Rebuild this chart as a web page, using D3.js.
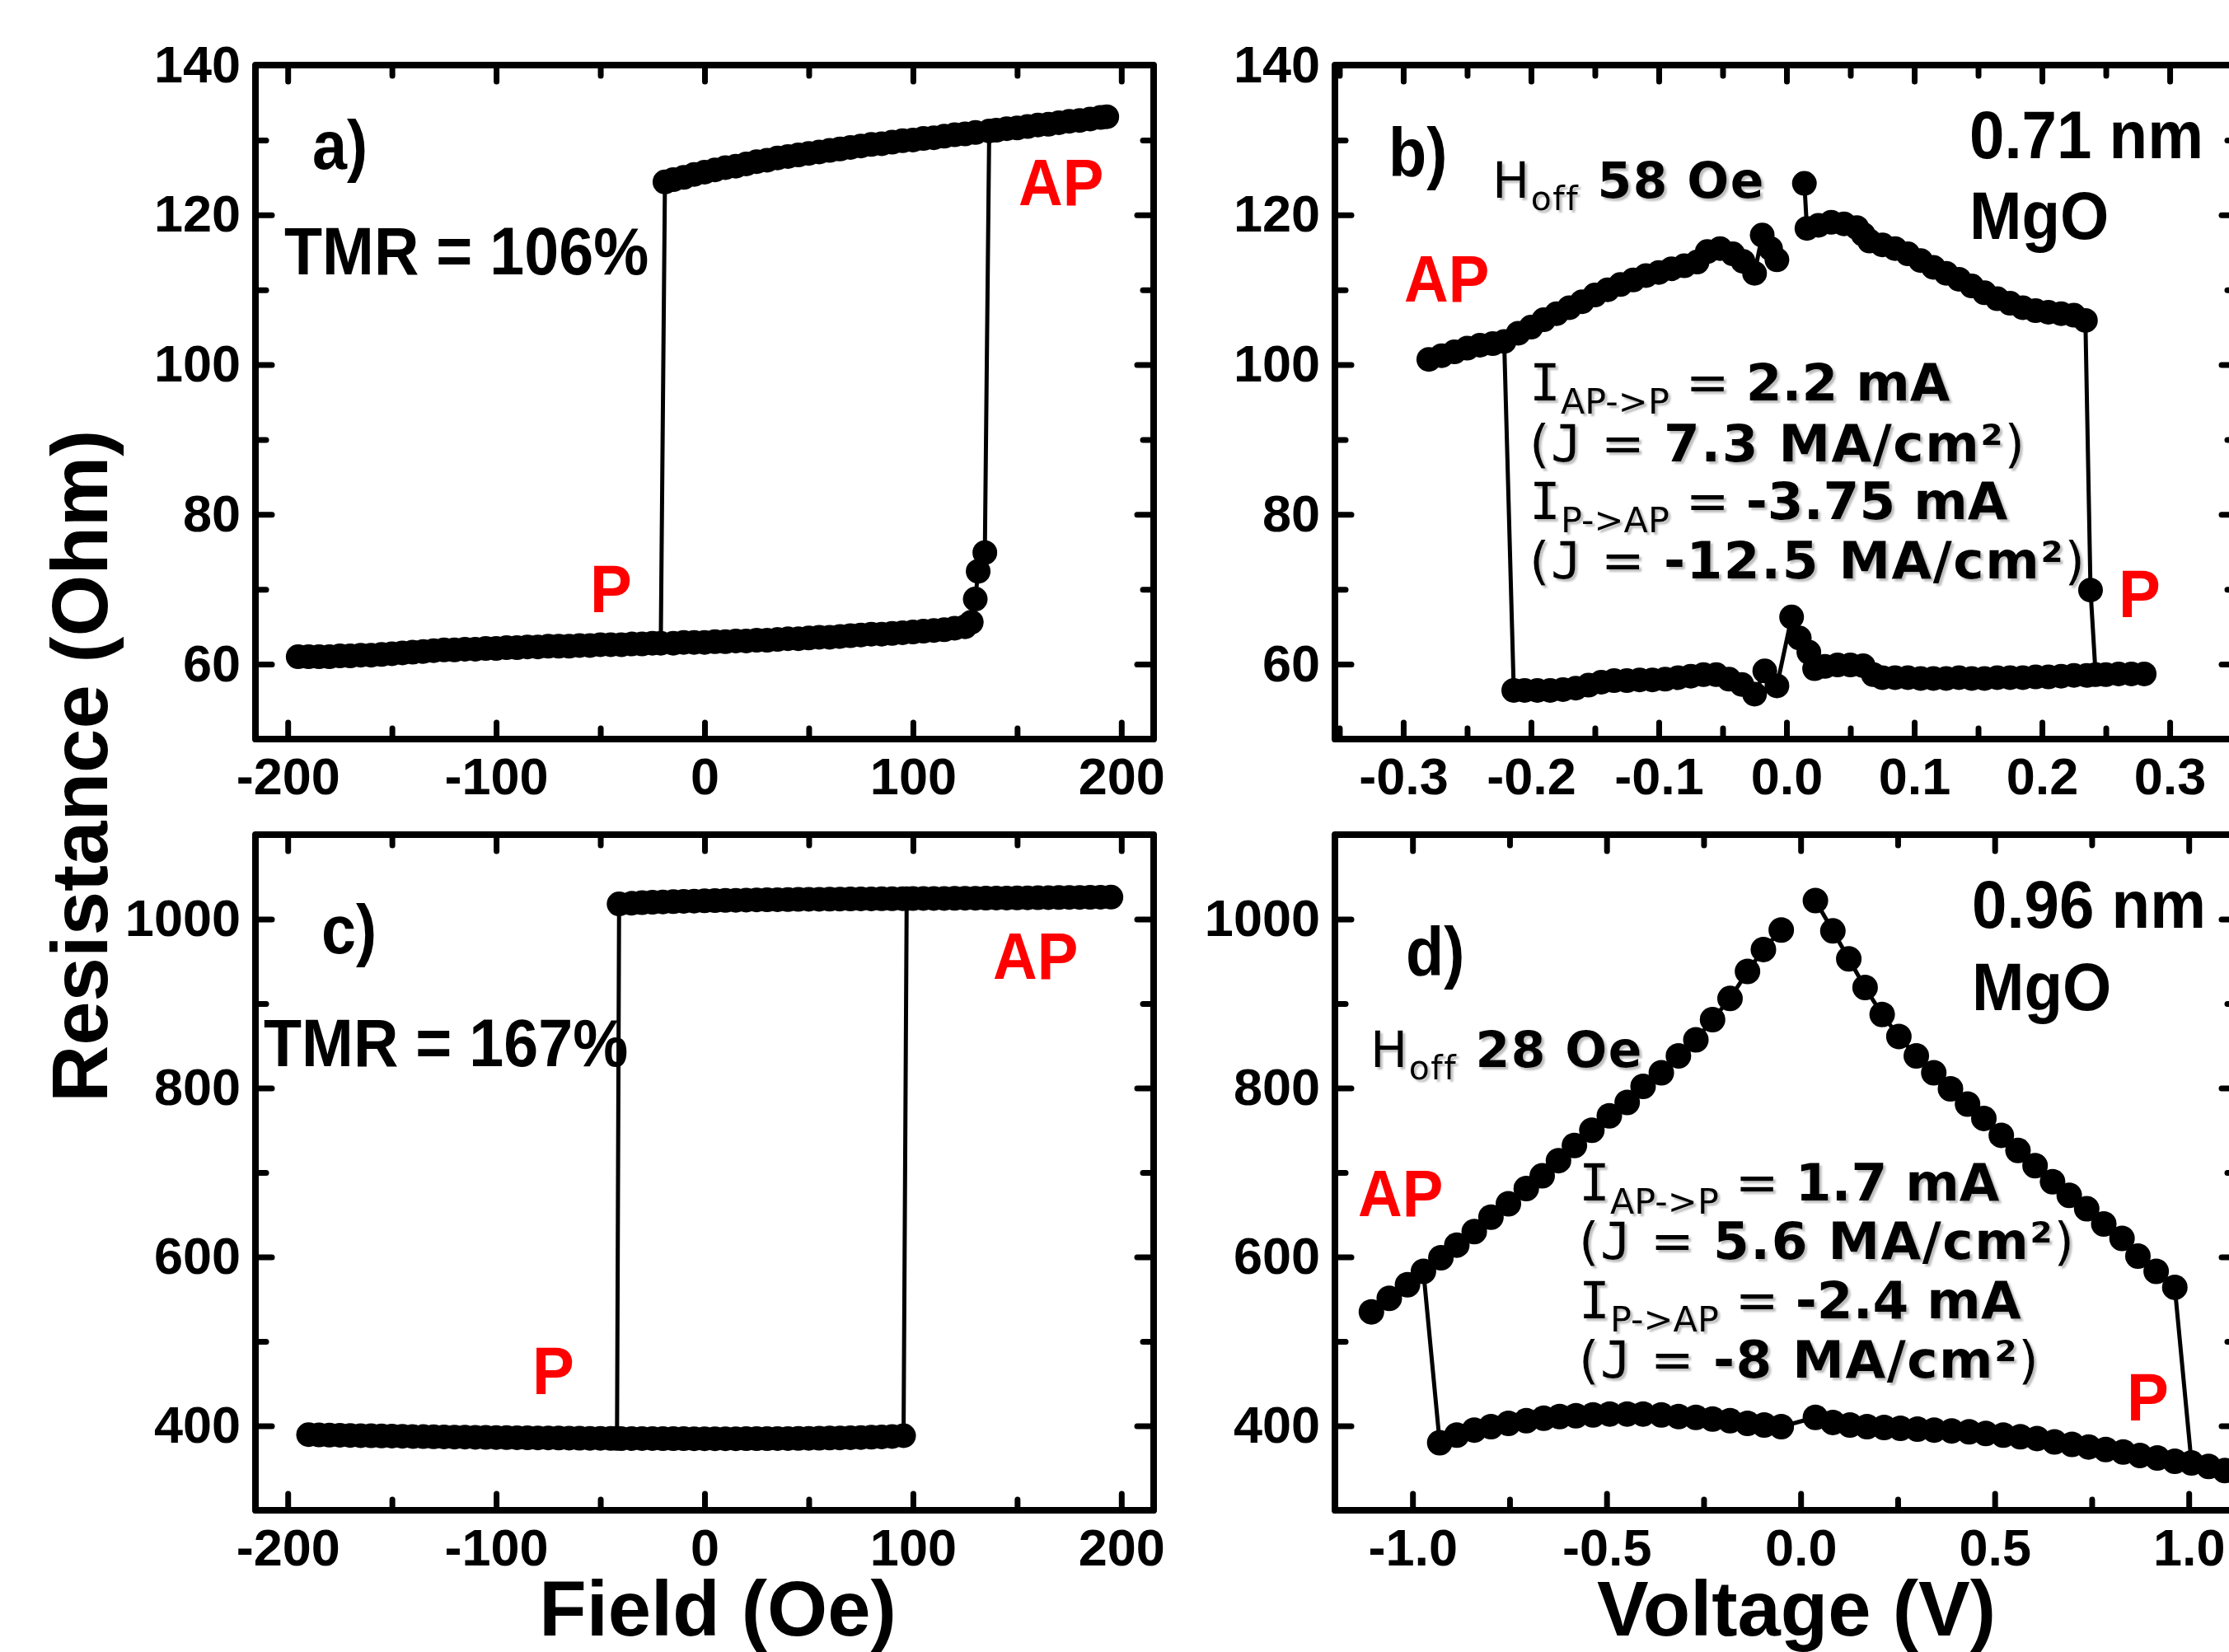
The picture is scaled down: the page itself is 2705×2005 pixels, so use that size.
<!DOCTYPE html>
<html>
<head>
<meta charset="utf-8">
<script src="https://cdn.jsdelivr.net/npm/d3@7"></script>
<style>
  body { margin: 0; background: #fff; }
</style>
</head>
<body>
<script>
// ---- panel a : R vs field, 0.71 nm MgO ----
// P branch (low state), up sweep
const aPField = [-195,-190,-185,-180,-175,-170,-165,-160,-155,-150,-145,-140,-135,-130,-125,-120,-115,-110,-105,-100,
  -95,-90,-85,-80,-75,-70,-65,-60,-55,-50,-45,-40,-35,-30,-25,-21,-15,-10,-5,0,5,10,15,20,25,30,35,40,45,50,
  55,60,65,70,75,80,85,90,95,100,105,110,115,120,125,128];
const aPRes = [61.0,61.0,61.0,61.0,61.1,61.1,61.2,61.2,61.3,61.4,61.5,61.6,61.7,61.8,61.9,61.9,62.0,62.0,62.1,62.1,
  62.2,62.2,62.3,62.3,62.4,62.4,62.4,62.5,62.5,62.6,62.6,62.6,62.7,62.7,62.8,62.8,62.8,62.9,62.9,62.9,63.0,63.0,63.1,63.1,63.2,63.2,63.3,63.4,63.4,63.5,
  63.6,63.6,63.7,63.8,63.9,64.0,64.0,64.1,64.2,64.3,64.4,64.5,64.6,64.8,65.0,65.6];
// points on the way up from P to AP
const aSwitchField = [129.9, 131.3, 134.5];
const aSwitchRes = [68.7, 72.4, 74.9];
// AP branch (high state)
const aAPField = [-19,-15,-10,-5,0,5,10,15,20,25,30,35,40,45,50,55,60,65,70,75,80,85,90,95,100,105,110,115,120,125,130,
  136.6,140,145,150,155,160,165,170,175,180,185,190,193];
const aAPRes = [124.4,124.7,125.0,125.4,125.7,126.0,126.3,126.5,126.8,127.1,127.3,127.6,127.8,128.0,128.2,128.4,128.6,128.8,129.0,129.2,129.4,
  129.5,129.7,129.9,130.0,130.2,130.3,130.5,130.7,130.8,131.0,131.2,131.3,131.5,131.6,131.8,132.0,132.1,132.3,132.5,132.6,132.8,133.0,133.1];

// ---- panel b : R vs voltage, 0.71 nm MgO ----
const bAPRightV = [0.014,0.016,0.025,0.035,0.045,0.055,0.06,0.065,0.075,0.085,0.095,0.105,0.115,0.125,0.135,0.145,0.155,0.165,0.175,0.185,0.195,0.205,0.215,0.225,0.234];
const bAPRightR = [124.2,118.2,118.6,119.0,118.8,118.3,117.4,116.5,116.0,115.5,114.8,113.9,113.0,112.2,111.4,110.5,109.6,108.8,108.2,107.6,107.2,107.0,106.8,106.6,105.9];
const bSwitchV = [0.238];
const bSwitchR = [69.9];
const bPV = [-0.2135,-0.205,-0.195,-0.185,-0.175,-0.165,-0.155,-0.145,-0.135,-0.125,-0.115,-0.105,-0.095,-0.085,-0.075,-0.065,-0.055,-0.045,-0.035,-0.025,-0.017,-0.0075,
  0.004,0.01,0.0175,0.022,0.03,0.04,0.05,0.06,0.068,0.075,0.085,0.095,0.105,0.115,0.125,0.135,0.145,0.155,0.165,0.175,0.185,0.195,0.205,0.215,0.225,0.235,0.242,0.25,0.26,0.27,0.28];
const bPR = [56.5,56.5,56.5,56.5,56.6,56.8,57.2,57.6,57.8,57.8,57.9,57.9,58.0,58.2,58.4,58.6,58.6,58.0,57.3,56.0,59.1,57.1,
  66.3,63.5,61.6,59.4,59.7,59.9,59.9,59.8,58.6,58.2,58.2,58.2,58.1,58.1,58.1,58.2,58.1,58.1,58.2,58.2,58.2,58.3,58.3,58.4,58.5,58.5,58.6,58.6,58.7,58.7,58.7];
const bAPLeftV = [-0.28,-0.27,-0.26,-0.25,-0.24,-0.23,-0.221,-0.21,-0.2,-0.19,-0.18,-0.17,-0.16,-0.15,-0.14,-0.13,-0.12,-0.11,-0.1,-0.09,-0.08,-0.07,
  -0.062,-0.052,-0.042,-0.034,-0.025,-0.019,-0.0125,-0.0075];
const bAPLeftR = [100.7,101.2,101.7,102.2,102.6,102.8,103.1,104.2,105.0,106.0,106.8,107.6,108.4,109.3,110.0,110.7,111.3,111.9,112.3,112.8,113.2,113.7,
  115.1,115.5,114.8,113.8,112.2,117.3,115.5,114.0];

// ---- panel c : R vs field, 0.96 nm MgO ----
const cPField = [-190,-185,-180,-175,-170,-165,-160,-155,-150,-145,-140,-135,-130,-125,-120,-115,-110,-105,-100,-95,
  -90,-85,-80,-75,-70,-65,-60,-55,-50,-45,-42,-40,-35,-30,-25,-20,-15,-10,-5,0,5,10,15,20,25,30,35,40,45,50,55,
  60,65,70,75,80,85,90,95.5];
const cPRes = [389.5,389.2,389.0,388.8,388.6,388.4,388.2,388.0,387.8,387.6,387.4,387.2,387.0,386.9,386.7,386.6,386.4,386.3,386.2,386.0,
  385.9,385.8,385.7,385.6,385.5,385.4,385.3,385.2,385.2,385.1,385.1,385.0,385.0,384.9,384.9,384.8,384.8,384.8,384.7,384.7,384.7,384.7,384.7,384.8,384.8,384.8,384.9,385.0,385.1,385.2,385.3,
  385.5,385.7,385.9,386.2,386.5,386.9,387.3,388.3];
const cAPField = [-41,-35,-30,-25,-20,-15,-10,-5,0,5,10,15,20,25,30,35,40,45,50,55,60,65,70,75,80,85,90,95,
  97,100,105,110,115,120,125,130,135,140,145,150,155,160,165,170,175,180,185,190,195];
const cAPRes = [1018.0,1018.8,1019.4,1019.9,1020.3,1020.7,1021.0,1021.3,1021.6,1021.9,1022.1,1022.3,1022.5,1022.7,1022.9,1023.0,1023.1,1023.3,1023.4,1023.5,1023.6,1023.7,1023.8,1023.9,1024.0,1024.1,1024.1,1024.2,
  1024.2,1024.3,1024.4,1024.4,1024.5,1024.6,1024.7,1024.7,1024.8,1024.9,1025.0,1025.1,1025.2,1025.3,1025.4,1025.5,1025.6,1025.7,1025.8,1025.9,1026.0];

// ---- panel d : R vs voltage, 0.96 nm MgO ----
const dAPLeftV = [-1.106,-1.06,-1.013,-0.972,-0.927,-0.886,-0.841,-0.798,-0.753,-0.707,-0.666,-0.624,-0.583,-0.538,-0.493,-0.447,-0.406,-0.359,-0.315,-0.270,-0.227,-0.182,-0.137,-0.096,-0.050];
const dAPLeftR = [535,551,567,583,599,614,630,647,663,681,696,714,732,750,767,783,802,818,838,857,881,906,938,964,987];
const dAPRightV = [0.038,0.083,0.124,0.166,0.210,0.253,0.298,0.343,0.386,0.430,0.472,0.517,0.560,0.604,0.649,0.692,0.737,0.781,0.828,0.869,0.916,0.964];
const dAPRightR = [1022,986,953,919,887,861,838,818,799,781,764,744,726,708,689,673,657,639,622,601,583,564];
const dPLeftV = [-0.930,-0.886,-0.841,-0.798,-0.753,-0.707,-0.662,-0.621,-0.579,-0.535,-0.492,-0.447,-0.406,-0.359,-0.315,-0.270,-0.227,-0.182,-0.137,-0.094,-0.050];
const dPLeftR = [380,389,395,399,403,406,409,411,412,413,414,414,414,413,411,410,408,406,403,401,399];
const dPRightV = [0.038,0.083,0.127,0.171,0.215,0.257,0.301,0.344,0.389,0.434,0.477,0.522,0.566,0.609,0.654,0.699,0.742,0.786,0.831,0.874,0.919,0.964,1.007,1.051,1.093];
const dPRightR = [410,404,401,399,398,397,396,395,394,393,391,389,387,385,381,378,375,372,369,365,362,358,356,352,347];

// ticks
const fieldMajor = [-200,-100,0,100,200], fieldMinor = [-150,-50,50,150];
const bVMajor = [-0.3,-0.2,-0.1,0,0.1,0.2,0.3], bVMinor = [-0.35,-0.25,-0.15,-0.05,0.05,0.15,0.25,0.35];
const dVMajor = [-1,-0.5,0,0.5,1], dVMinor = [-0.75,-0.25,0.25,0.75];
const lowRMajor = [60,80,100,120,140], lowRMinor = [50,70,90,110,130];
const highRMajor = [400,600,800,1000], highRMinor = [300,500,700,900,1100];

const ARIAL = "'Liberation Sans', Arial, Helvetica, sans-serif";
const VERD = "'DejaVu Sans', Verdana, sans-serif";
const MONO = "'DejaVu Sans Mono', monospace"; // serifed I and J, as in Verdana

const svg = d3.select("body").append("svg").attr("width", 2705).attr("height", 2005);
svg.append("rect").attr("width", 2705).attr("height", 2005).attr("fill", "#fff");
const flt = svg.append("defs").append("filter").attr("id", "shadow")
  .attr("x", "-5%").attr("y", "-20%").attr("width", "115%").attr("height", "150%");
flt.append("feDropShadow").attr("dx", 3).attr("dy", 3).attr("stdDeviation", 1.2)
  .attr("flood-color", "#888").attr("flood-opacity", 0.55);

const zip = (xs, ys) => xs.map((v, i) => [v, ys[i]]);

function addAxis(g, make, scale, tr, major, minor, fmt, pad) {
  const mi = g.append("g").attr("transform", tr)
    .call(make(scale).tickValues(minor).tickSize(-13).tickFormat(""));
  const ma = g.append("g").attr("transform", tr)
    .call(make(scale).tickValues(major).tickSize(-20).tickPadding(pad || 0).tickFormat(fmt || ""));
  [mi, ma].forEach(a => {
    a.select(".domain").remove();
    a.selectAll("line").attr("stroke", "#000").attr("stroke-width", 7).attr("stroke-linecap", "round");
  });
  ma.selectAll("text").attr("font-family", ARIAL).attr("font-size", 63)
    .attr("font-weight", "bold").attr("fill", "#000");
}

function drawPanel(p) {
  const g = svg.append("g");
  const x = d3.scaleLinear().domain(p.xDomain).range([p.left, p.right]);
  const y = d3.scaleLinear().domain(p.yDomain).range([p.bottom, p.top]);
  const inX = v => v >= p.xDomain[0] && v <= p.xDomain[1];

  addAxis(g, d3.axisBottom, x, `translate(0,${p.bottom})`, p.xMajor, p.xMinor.filter(inX), p.xFmt, 22);
  addAxis(g, d3.axisTop, x, `translate(0,${p.top})`, p.xMajor, p.xMinor.filter(inX));
  addAxis(g, d3.axisLeft, y, `translate(${p.left},0)`, p.yMajor, p.yMinor, d3.format("d"), 18);
  addAxis(g, d3.axisRight, y, `translate(${p.right},0)`, p.yMajor, p.yMinor);

  g.append("rect").attr("x", p.left).attr("y", p.top)
    .attr("width", p.right - p.left).attr("height", p.bottom - p.top)
    .attr("fill", "none").attr("stroke", "#000").attr("stroke-width", 8).attr("stroke-linejoin", "round");

  g.append("path").datum(p.sweep)
    .attr("d", d3.line().x(d => x(d[0])).y(d => y(d[1])))
    .attr("fill", "none").attr("stroke", "#000").attr("stroke-width", 5).attr("stroke-linejoin", "round");

  g.selectAll("circle.pt").data(p.points).join("circle").attr("class", "pt")
    .attr("cx", d => x(d[0])).attr("cy", d => y(d[1])).attr("r", p.r).attr("fill", "#000");
}

function label(x, y, str, size, color, sx) {
  svg.append("text").attr("transform", `translate(${x},${y}) scale(${sx || 0.93},1)`)
    .attr("font-family", ARIAL).attr("font-weight", "bold").attr("font-size", size)
    .attr("fill", color || "#000").text(str);
}

function rich(x, y, parts, size, spacing) {
  const t = svg.append("text").attr("x", x).attr("y", y)
    .attr("font-family", VERD).attr("font-size", size).attr("fill", "#000")
    .attr("letter-spacing", spacing == null ? 1.5 : spacing).attr("filter", "url(#shadow)");
  let shift = 0;
  parts.forEach(p => {
    const s = t.append("tspan").text(p.t);
    if (p.b) s.attr("font-weight", "bold");
    if (p.m) s.attr("font-family", MONO);
    const want = p.sub ? Math.round(size * 0.25) : 0;
    if (want !== shift) { s.attr("dy", want - shift); shift = want; }
    if (p.sub) s.attr("font-size", Math.round(size * 0.68));
  });
}

// ---- build sweeps (measurement order) ----
const aP = zip(aPField, aPRes), aAP = zip(aAPField, aAPRes), aSw = zip(aSwitchField, aSwitchRes);
const aSweep = [...aP, ...aSw, ...aAP.filter(d => d[0] >= 136), ...aAP.slice().reverse(),
  ...aP.filter(d => d[0] <= -21).reverse()];

const bAPR = zip(bAPRightV, bAPRightR), bAPL = zip(bAPLeftV, bAPLeftR), bP = zip(bPV, bPR), bSw = zip(bSwitchV, bSwitchR);
const bSweep = [...bAPR, ...bSw, ...bP.filter(d => d[0] >= 0.242), ...bP.slice().reverse(),
  ...bAPL.filter(d => d[0] <= -0.221).reverse(), ...bAPL];

const cP = zip(cPField, cPRes), cAP = zip(cAPField, cAPRes);
const cSweep = [...cP, ...cAP.filter(d => d[0] >= 97), ...cAP.slice().reverse(),
  ...cP.filter(d => d[0] <= -42).reverse()];

const dAPL = zip(dAPLeftV, dAPLeftR), dAPR = zip(dAPRightV, dAPRightR), dPL = zip(dPLeftV, dPLeftR), dPR = zip(dPRightV, dPRightR);
const dSweep = [...dAPR, ...dPR.filter(d => d[0] >= 1.0), ...dPR.slice().reverse(), ...dPL.slice().reverse(),
  ...dAPL.filter(d => d[0] <= -0.97).reverse(), ...dAPL];

const fmtV = d => d3.format(".1f")(d).replace("−", "-");
const fmtF = d => d3.format("d")(d).replace("−", "-");

drawPanel({ left: 310, right: 1400, top: 79, bottom: 897, xDomain: [-215.5, 215.5], yDomain: [50, 140],
  xMajor: fieldMajor, xMinor: fieldMinor, yMajor: lowRMajor, yMinor: lowRMinor, xFmt: fmtF,
  points: [...aP, ...aSw, ...aAP], sweep: aSweep, r: 15 });
drawPanel({ left: 1620, right: 2716, top: 79, bottom: 897, xDomain: [-0.3535, 0.3535], yDomain: [50, 140],
  xMajor: bVMajor, xMinor: bVMinor, yMajor: lowRMajor, yMinor: lowRMinor, xFmt: fmtV,
  points: [...bAPR, ...bSw, ...bP, ...bAPL], sweep: bSweep, r: 15 });
drawPanel({ left: 310, right: 1400, top: 1013, bottom: 1833, xDomain: [-215.5, 215.5], yDomain: [300, 1100],
  xMajor: fieldMajor, xMinor: fieldMinor, yMajor: highRMajor, yMinor: highRMinor, xFmt: fmtF,
  points: [...cP, ...cAP], sweep: cSweep, r: 15 });
drawPanel({ left: 1620, right: 2716, top: 1013, bottom: 1833, xDomain: [-1.2, 1.127], yDomain: [300, 1100],
  xMajor: dVMajor, xMinor: dVMinor, yMajor: highRMajor, yMinor: highRMinor, xFmt: fmtV,
  points: [...dAPL, ...dAPR, ...dPL, ...dPR], sweep: dSweep, r: 15.5 });

// ---- axis titles ----
svg.append("text").attr("transform", "translate(130,930) rotate(-90)").attr("text-anchor", "middle")
  .attr("font-family", ARIAL).attr("font-weight", "bold").attr("font-size", 96).text("Resistance (Ohm)");
svg.append("text").attr("x", 871).attr("y", 1985).attr("text-anchor", "middle")
  .attr("font-family", ARIAL).attr("font-weight", "bold").attr("font-size", 94).text("Field (Oe)");
svg.append("text").attr("x", 2180).attr("y", 1985).attr("text-anchor", "middle")
  .attr("font-family", ARIAL).attr("font-weight", "bold").attr("font-size", 94).text("Voltage (V)");

// ---- panel labels and annotations ----
const RED = "#ff0000";
label(379, 205, "a)", 84, null, 0.9);
label(345, 333, "TMR = 106%", 82, null, 0.92);
label(1236, 249, "AP", 80, RED);
label(716, 743, "P", 82, RED);

label(1685, 214, "b)", 84, null, 0.9);
label(2390, 192, "0.71 nm", 82);
label(2390, 290, "MgO", 82);
label(1704, 366, "AP", 80, RED);
label(2571, 749, "P", 82, RED);
rich(1811, 240, [{ t: "H" }, { t: "off", sub: true }, { t: " 58 Oe", b: true }], 60);
rich(1856, 486, [{ t: "I", m: true }, { t: "AP->P", sub: true }, { t: " = " }, { t: "2.2 mA", b: true }], 63, 0);
rich(1856, 560, [{ t: "(" }, { t: "J", m: true }, { t: " = " }, { t: "7.3 MA/cm²", b: true }, { t: ")" }], 63);
rich(1856, 630, [{ t: "I", m: true }, { t: "P->AP", sub: true }, { t: " = " }, { t: "-3.75 mA", b: true }], 63, 0);
rich(1856, 702, [{ t: "(" }, { t: "J", m: true }, { t: " = " }, { t: "-12.5 MA/cm²", b: true }, { t: ")" }], 63);

label(390, 1157, "c)", 84, null, 0.9);
label(320, 1294, "TMR = 167%", 82, null, 0.92);
label(1205, 1188, "AP", 80, RED);
label(646, 1692, "P", 82, RED);

label(1706, 1184, "d)", 84, null, 0.9);
label(2393, 1126, "0.96 nm", 82);
label(2393, 1226, "MgO", 82);
label(1648, 1476, "AP", 80, RED);
label(2581, 1724, "P", 82, RED);
rich(1663, 1295, [{ t: "H" }, { t: "off", sub: true }, { t: " 28 Oe", b: true }], 60);
rich(1916, 1457, [{ t: "I", m: true }, { t: "AP->P", sub: true }, { t: " = " }, { t: "1.7 mA", b: true }], 63, 0);
rich(1916, 1528, [{ t: "(" }, { t: "J", m: true }, { t: " = " }, { t: "5.6 MA/cm²", b: true }, { t: ")" }], 63);
rich(1916, 1600, [{ t: "I", m: true }, { t: "P->AP", sub: true }, { t: " = " }, { t: "-2.4 mA", b: true }], 63, 0);
rich(1916, 1672, [{ t: "(" }, { t: "J", m: true }, { t: " = " }, { t: "-8 MA/cm²", b: true }, { t: ")" }], 63);
</script>
</body>
</html>
